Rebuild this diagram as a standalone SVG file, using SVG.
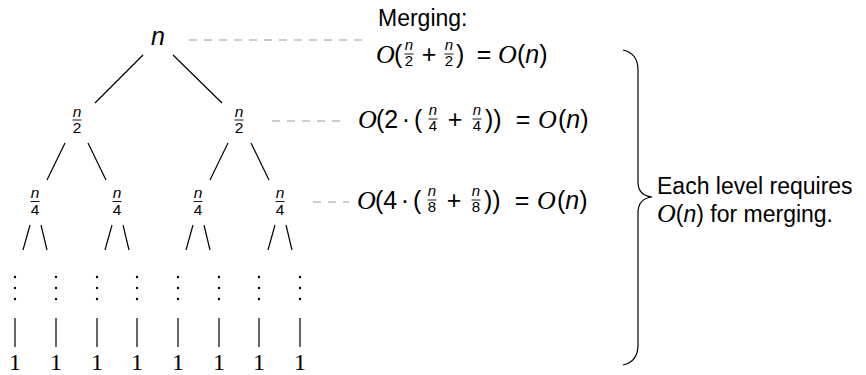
<svg xmlns="http://www.w3.org/2000/svg" width="866" height="375" viewBox="0 0 866 375">
<style>
text{font-family:"Liberation Sans",Arial,sans-serif;font-size:23px;fill:#000}
.it{font-style:italic}
.mt{font-size:25px}
.cal{font-family:"Liberation Serif","Times New Roman",serif;font-style:italic;font-size:26px}
.m{text-anchor:middle}
.fr{font-size:15.5px;text-anchor:middle}
.sf{font-size:15px;text-anchor:middle}
.one{font-family:"Liberation Serif","Times New Roman",serif;font-size:24px;text-anchor:middle}
.edge{stroke:#000;stroke-width:1.2;fill:none}
.bar{stroke:#000;stroke-width:0.9}
.dash{stroke:#9a9a9a;stroke-width:1;stroke-dasharray:8 7;fill:none}
.dot{fill:#000}
</style>
<rect width="866" height="375" fill="#fff"/>

<g id="connectors">
  <line class="edge" x1="143" y1="55" x2="95" y2="103"/>
  <line class="edge" x1="173" y1="55" x2="222" y2="103"/>
  <line class="edge" x1="65" y1="143" x2="47" y2="180"/>
  <line class="edge" x1="88" y1="143" x2="106" y2="180"/>
  <line class="edge" x1="228" y1="143" x2="210" y2="180"/>
  <line class="edge" x1="251" y1="143" x2="269" y2="180"/>
  <g id="leafedges">
    <line class="edge" x1="30" y1="225" x2="23" y2="250"/><line class="edge" x1="41" y1="225" x2="47" y2="250"/>
    <line class="edge" x1="112" y1="225" x2="105" y2="250"/><line class="edge" x1="123" y1="225" x2="129" y2="250"/>
    <line class="edge" x1="193" y1="225" x2="186" y2="250"/><line class="edge" x1="204" y1="225" x2="210" y2="250"/>
    <line class="edge" x1="275" y1="225" x2="268" y2="250"/><line class="edge" x1="286" y1="225" x2="292" y2="250"/>
  </g>
  <g id="bars">
    <line class="edge" x1="15" y1="318" x2="15" y2="347"/>
    <line class="edge" x1="56" y1="318" x2="56" y2="347"/>
    <line class="edge" x1="97" y1="318" x2="97" y2="347"/>
    <line class="edge" x1="137" y1="318" x2="137" y2="347"/>
    <line class="edge" x1="178" y1="318" x2="178" y2="347"/>
    <line class="edge" x1="219" y1="318" x2="219" y2="347"/>
    <line class="edge" x1="259" y1="318" x2="259" y2="347"/>
    <line class="edge" x1="300" y1="318" x2="300" y2="347"/>
  </g>
  <line class="dash" x1="189" y1="40" x2="368" y2="40"/>
  <line class="dash" x1="272" y1="121" x2="345" y2="121"/>
  <line class="dash" x1="313" y1="202" x2="349" y2="202"/>
</g>

<g id="root"><text class="it m mt" x="158" y="45">n</text></g>

<g id="half-left"><text class="it fr" x="77" y="117">n</text><line class="bar" x1="72.5" y1="120" x2="81.5" y2="120"/><text class="fr" x="77" y="133">2</text></g>
<g id="half-right"><text class="it fr" x="239" y="117">n</text><line class="bar" x1="234.5" y1="120" x2="243.5" y2="120"/><text class="fr" x="239" y="133">2</text></g>

<g id="q1"><text class="it fr" x="35" y="198">n</text><line class="bar" x1="30.5" y1="201.5" x2="39.5" y2="201.5"/><text class="fr" x="35" y="215">4</text></g>
<g id="q2"><text class="it fr" x="117" y="198">n</text><line class="bar" x1="112.5" y1="201.5" x2="121.5" y2="201.5"/><text class="fr" x="117" y="215">4</text></g>
<g id="q3"><text class="it fr" x="198" y="198">n</text><line class="bar" x1="193.5" y1="201.5" x2="202.5" y2="201.5"/><text class="fr" x="198" y="215">4</text></g>
<g id="q4"><text class="it fr" x="280" y="198">n</text><line class="bar" x1="275.5" y1="201.5" x2="284.5" y2="201.5"/><text class="fr" x="280" y="215">4</text></g>

<g id="vdots">
  <circle class="dot" cx="15" cy="277" r="1.2"/><circle class="dot" cx="15" cy="288" r="1.2"/><circle class="dot" cx="15" cy="299" r="1.2"/>
  <circle class="dot" cx="56" cy="277" r="1.2"/><circle class="dot" cx="56" cy="288" r="1.2"/><circle class="dot" cx="56" cy="299" r="1.2"/>
  <circle class="dot" cx="97" cy="277" r="1.2"/><circle class="dot" cx="97" cy="288" r="1.2"/><circle class="dot" cx="97" cy="299" r="1.2"/>
  <circle class="dot" cx="137" cy="277" r="1.2"/><circle class="dot" cx="137" cy="288" r="1.2"/><circle class="dot" cx="137" cy="299" r="1.2"/>
  <circle class="dot" cx="178" cy="277" r="1.2"/><circle class="dot" cx="178" cy="288" r="1.2"/><circle class="dot" cx="178" cy="299" r="1.2"/>
  <circle class="dot" cx="219" cy="277" r="1.2"/><circle class="dot" cx="219" cy="288" r="1.2"/><circle class="dot" cx="219" cy="299" r="1.2"/>
  <circle class="dot" cx="259" cy="277" r="1.2"/><circle class="dot" cx="259" cy="288" r="1.2"/><circle class="dot" cx="259" cy="299" r="1.2"/>
  <circle class="dot" cx="300" cy="277" r="1.2"/><circle class="dot" cx="300" cy="288" r="1.2"/><circle class="dot" cx="300" cy="299" r="1.2"/>
</g>

<g id="leaves">
  <text class="one" x="15" y="369.5">1</text><text class="one" x="56" y="369.5">1</text>
  <text class="one" x="97" y="369.5">1</text><text class="one" x="137" y="369.5">1</text>
  <text class="one" x="178" y="369.5">1</text><text class="one" x="219" y="369.5">1</text>
  <text class="one" x="259" y="369.5">1</text><text class="one" x="300" y="369.5">1</text>
</g>

<g id="merge1">
  <text x="378" y="26">Merging:</text>
  <text class="cal" x="376" y="63">O</text><text class="mt" x="394" y="63">(</text>
  <text class="it sf" x="409" y="50">n</text><line class="bar" x1="404.5" y1="54" x2="413.5" y2="54"/><text class="sf" x="409" y="66">2</text>
  <text class="m mt" x="429" y="63">+</text>
  <text class="it sf" x="449" y="50">n</text><line class="bar" x1="444.5" y1="54" x2="453.5" y2="54"/><text class="sf" x="449" y="66">2</text>
  <text class="mt" x="456" y="63">)</text>
  <text class="m mt" x="484" y="63">=</text>
  <text class="cal" x="498" y="63">O</text><text class="mt" x="517" y="63">(<tspan class="it">n</tspan>)</text>
</g>

<g id="merge2">
  <text class="cal" x="358" y="128">O</text><text class="mt" x="376" y="128">(2</text>
  <text class="m mt" x="406" y="128">·</text><text class="mt" x="414" y="128">(</text>
  <text class="it sf" x="433" y="115">n</text><line class="bar" x1="428.5" y1="119" x2="437.5" y2="119"/><text class="sf" x="433" y="131">4</text>
  <text class="m mt" x="455" y="128">+</text>
  <text class="it sf" x="477" y="115">n</text><line class="bar" x1="472.5" y1="119" x2="481.5" y2="119"/><text class="sf" x="477" y="131">4</text>
  <text class="mt" x="485" y="128">))</text>
  <text class="m mt" x="523" y="128">=</text>
  <text class="cal" x="538" y="128">O</text><text class="mt" x="558" y="128">(<tspan class="it">n</tspan>)</text>
</g>

<g id="merge3">
  <text class="cal" x="357" y="209">O</text><text class="mt" x="375" y="209">(4</text>
  <text class="m mt" x="405" y="209">·</text><text class="mt" x="413" y="209">(</text>
  <text class="it sf" x="432" y="196">n</text><line class="bar" x1="427.5" y1="200" x2="436.5" y2="200"/><text class="sf" x="432" y="212">8</text>
  <text class="m mt" x="454" y="209">+</text>
  <text class="it sf" x="476" y="196">n</text><line class="bar" x1="471.5" y1="200" x2="480.5" y2="200"/><text class="sf" x="476" y="212">8</text>
  <text class="mt" x="484" y="209">))</text>
  <text class="m mt" x="522" y="209">=</text>
  <text class="cal" x="537" y="209">O</text><text class="mt" x="557" y="209">(<tspan class="it">n</tspan>)</text>
</g>

<g id="brace">
  <path class="edge" d="M623,50 C632,52 638,58 638,70 L638,182 C638,192 643,196 652,197 C643,198 638,203 638,213 L638,345 C638,357 632,363 623,365"/>
</g>

<g id="summary">
  <text x="657" y="194">Each level requires</text>
  <text x="657" y="222"><tspan class="cal" font-size="24">O</tspan>(<tspan class="it">n</tspan>) for merging.</text>
</g>
</svg>
